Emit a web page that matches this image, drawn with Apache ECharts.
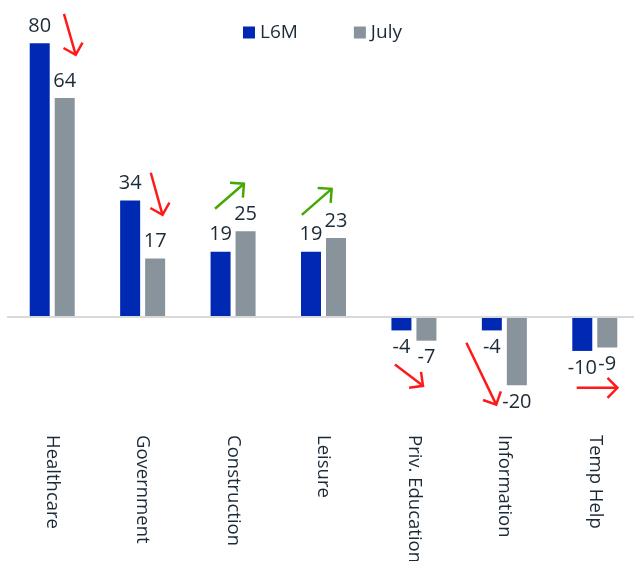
<!DOCTYPE html>
<html>
<head>
<meta charset="utf-8">
<script src="https://cdn.jsdelivr.net/npm/echarts@6/dist/echarts.min.js"></script>
<style>
  html, body { margin: 0; padding: 0; background: #fff; }
  #main { width: 634px; height: 561px; }
</style>
</head>
<body>
<div id="main"></div>
<script>
const categories = ['Healthcare', 'Government', 'Construction', 'Leisure', 'Priv. Education', 'Information', 'Temp Help']
const l6m = [80, 34, 19, 19, -4, -4, -10]
const july = [64, 17, 25, 23, -7, -20, -9]
// annotation arrows: category index, start / end as [offset in band widths, value]
const arrowCat = [0, 1, 2, 3, 4, 5, 6]
const arrowFrom = [[0.13, 88.6], [0.09, 42.1], [-0.2, 31.6], [-0.24, 29.8], [-0.21, -14], [-0.42, -7.6], [-0.2, -20.8]]
const arrowTo = [[0.26, 76.6], [0.22, 29.8], [0.12, 38.9], [0.09, 37.4], [0.1, -20.2], [-0.09, -25.7], [0.25, -20.8]]
const arrowColor = ['#ff1a1a', '#ff1a1a', '#44a800', '#44a800', '#ff1a1a', '#ff1a1a', '#ff1a1a']

const textColor = '#1b2a38'
const font = 'Open Sans'

function withLabels (values) {
  return values.map(v => ({
    value: v,
    label: { position: v < 0 ? 'bottom' : 'top' }
  }))
}

const chart = echarts.init(document.getElementById('main'))
const option = {
  animation: false,
  color: ['#0029b3', '#88939b'],
  legend: {
    left: 238,
    top: 18,
    itemWidth: 12,
    itemHeight: 12,
    itemGap: 56,
    icon: 'rect',
    textStyle: { fontSize: 19, color: textColor, fontFamily: font },
    data: ['L6M', 'July']
  },
  grid: {
    left: 7,
    right: -6,
    top: 9,
    bottom: 128,
    outerBoundsMode: 'none'
  },
  xAxis: {
    type: 'category',
    data: categories,
    axisLine: { show: false, onZero: false },
    axisTick: { show: false },
    axisLabel: {
      rotate: -90,
      margin: 2,
      fontSize: 18.5,
      color: textColor,
      fontFamily: font,
      interval: 0
    }
  },
  yAxis: {
    type: 'value',
    min: -34,
    max: 90,
    show: false,
    splitLine: { show: false }
  },
  series: [
    {
      name: 'L6M',
      type: 'bar',
      barWidth: 20,
      barGap: '25%',
      data: withLabels(l6m),
      label: { show: true, distance: 7, fontSize: 20, color: textColor, fontFamily: font },
      markLine: {
        silent: true,
        symbol: ['none', 'none'],
        label: { show: false },
        lineStyle: { color: '#d9d9d9', width: 2, type: 'solid' },
        data: [{ yAxis: 0 }]
      }
    },
    {
      name: 'July',
      type: 'bar',
      barWidth: 20,
      data: withLabels(july),
      label: { show: true, distance: 7, fontSize: 20, color: textColor, fontFamily: font }
    }
  ]
}
chart.setOption(option)

// draw the arrows from data space
const c0 = chart.convertToPixel({ gridIndex: 0 }, [0, 0])
const c1 = chart.convertToPixel({ gridIndex: 0 }, [1, 0])
const band = c1[0] - c0[0]
function toPx (cat, p) {
  const base = chart.convertToPixel({ gridIndex: 0 }, [cat, p[1]])
  return [base[0] + p[0] * band, base[1]]
}
const graphics = []
arrowCat.forEach((cat, i) => {
  const a = toPx(cat, arrowFrom[i])
  const b = toPx(cat, arrowTo[i])
  const dx = b[0] - a[0]
  const dy = b[1] - a[1]
  const len = Math.sqrt(dx * dx + dy * dy)
  const ux = -dx / len
  const uy = -dy / len
  const head = 14
  const ang = Math.PI / 4
  const w1 = [b[0] + head * (ux * Math.cos(ang) - uy * Math.sin(ang)), b[1] + head * (ux * Math.sin(ang) + uy * Math.cos(ang))]
  const w2 = [b[0] + head * (ux * Math.cos(-ang) - uy * Math.sin(-ang)), b[1] + head * (ux * Math.sin(-ang) + uy * Math.cos(-ang))]
  const style = { stroke: arrowColor[i], lineWidth: 2.5, fill: null }
  graphics.push({ type: 'polyline', shape: { points: [a, b] }, style: style, z: 10 })
  graphics.push({ type: 'polyline', shape: { points: [w1, b, w2] }, style: style, z: 10 })
})
chart.setOption({ graphic: graphics })
</script>
</body>
</html>
